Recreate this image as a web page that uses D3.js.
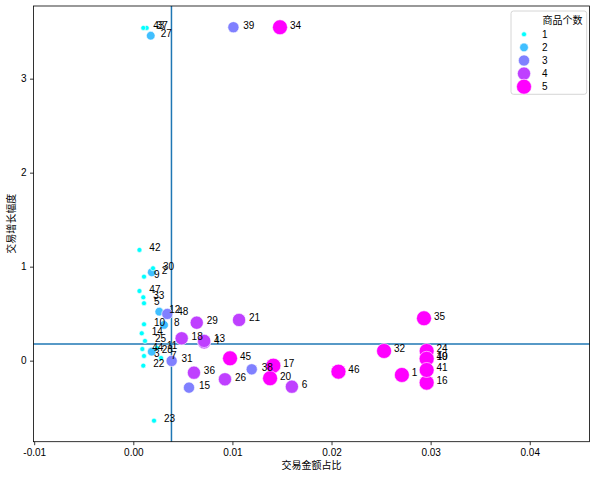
<!DOCTYPE html>
<meta charset="utf-8">
<style>
body { margin: 0; background: #fff; }
text { font-family: "Liberation Sans", "Noto Sans CJK SC", sans-serif; }
.zh { font-family: "Noto Sans CJK SC", sans-serif; }
</style>
<body>
<div id="chart"></div>
<script src="https://d3js.org/d3.v7.min.js"></script>
<script>

// point labels, x = 交易金额占比, y = 交易增长幅度, 商品个数
var ids    = [1, 2, 3, 4, 5, 6, 7, 8, 9, 10, 11, 12, 13, 14, 15, 16, 17, 18, 19, 20, 21, 22, 23, 24,
              25, 26, 27, 28, 29, 30, 31, 32, 33, 34, 35, 36, 37, 38, 39, 40, 41, 42, 43, 44, 45, 46, 47, 48];
var share  = [0.0271, 0.00186, 0.00108, 0.00715, 0.00108, 0.0160, 0.0028, 0.0031, 0.00108, 0.00108, 0.0024, 0.00262,
              0.00715, 0.00085, 0.00562, 0.0296, 0.01413, 0.00488, 0.0296, 0.0138, 0.01067, 0.00101, 0.00209, 0.0296,
              0.00118, 0.00925, 0.00176, 0.00186, 0.0064, 0.00199, 0.00387, 0.0253, 0.00101, 0.0148, 0.02933, 0.00612,
              0.00135, 0.01195, 0.0101, 0.0296, 0.0296, 0.00062, 0.00101, 0.00091, 0.00976, 0.0207, 0.00062, 0.00343];
var growth = [-0.152, 0.940, 0.050, 0.195, 0.611, -0.277, 0.029, 0.380, 0.894, 0.387, 0.135, 0.521,
              0.210, 0.291, -0.287, -0.234, -0.053, 0.238, 0.026, -0.187, 0.433, -0.053, -0.638, 0.103,
              0.210, -0.198, 3.457, 0.096, 0.404, 0.983, -0.003, 0.103, 0.674, 3.547, 0.451, -0.128,
              3.54, -0.092, 3.547, 0.020, -0.099, 1.178, 3.54, 0.124, 0.025, -0.117, 0.741, 0.497];
var count  = [5, 2, 1, 4, 1, 4, 1, 2, 1, 1, 1, 2, 4, 1, 3, 5, 5, 4, 5, 5, 4, 1, 1, 5,
              1, 4, 2, 2, 4, 1, 3, 5, 1, 5, 5, 4, 1, 3, 3, 5, 5, 1, 1, 1, 5, 5, 1, 3];

var xTicks = [-0.01, 0, 0.01, 0.02, 0.03, 0.04];
var yTicks = [0, 1, 2, 3];
var legendCounts = [1, 2, 3, 4, 5];
var meanShare = 0.00385, meanGrowth = 0.177;

var width = 598, height = 477;
var plotL = 33.5, plotR = 589.5, plotT = 6, plotB = 441.7;

var svg = d3.select("#chart").append("svg")
    .attr("width", width)
    .attr("height", height);

var x = d3.scaleLinear().domain([-0.01007, 0.04603]).range([plotL, plotR]);
var y = d3.scaleLinear().domain([-0.862, 3.773]).range([plotB, plotT]);

var color = d3.scaleLinear().domain([1, 5]).range(["#00ffff", "#ff00ff"]);
var area = d3.scaleLinear().domain([1, 5]).range([6.25, 56.25]);
var radius = function(n) { return Math.sqrt(area(n)); };

var data = ids.map(function(id, i) {
  return {id: id, x: share[i], y: growth[i], n: count[i]};
});

// reference lines
svg.append("line")
    .attr("x1", plotL).attr("x2", plotR)
    .attr("y1", y(meanGrowth)).attr("y2", y(meanGrowth))
    .attr("stroke", "#1f77b4").attr("stroke-width", 1.5);
svg.append("line")
    .attr("x1", x(meanShare)).attr("x2", x(meanShare))
    .attr("y1", plotT).attr("y2", plotB)
    .attr("stroke", "#1f77b4").attr("stroke-width", 1.5);

svg.selectAll("circle.pt")
    .data(data)
  .enter().append("circle")
    .attr("class", "pt")
    .attr("cx", function(d) { return x(d.x); })
    .attr("cy", function(d) { return y(d.y); })
    .attr("r", function(d) { return radius(d.n); })
    .attr("fill", function(d) { return color(d.n); })
    .attr("stroke", "#fff")
    .attr("stroke-width", 0.6);

svg.selectAll("text.lbl")
    .data(data)
  .enter().append("text")
    .attr("class", "lbl")
    .attr("x", function(d) { return x(d.x + 0.001); })
    .attr("y", function(d) { return y(d.y) + 1.5; })
    .attr("font-size", 10)
    .attr("fill", "#000")
    .text(function(d) { return d.id; });

// axes
var xAxis = d3.axisBottom(x).tickValues(xTicks).tickSize(3.5).tickPadding(3.5)
    .tickFormat(function(d) { return d.toFixed(2); });
var yAxis = d3.axisLeft(y).tickValues(yTicks).tickSize(3.5).tickPadding(3.5)
    .tickFormat(function(d) { return d; });

var gx = svg.append("g").attr("transform", "translate(0," + plotB + ")").call(xAxis);
var gy = svg.append("g").attr("transform", "translate(" + plotL + ",0)").call(yAxis);
[gx, gy].forEach(function(g) {
  g.select(".domain").remove();
  g.selectAll("line").attr("stroke", "#000").attr("stroke-width", 0.8);
  g.selectAll("text").attr("font-size", 10).attr("fill", "#000")
    .attr("font-family", "Liberation Sans, sans-serif");
});

svg.append("rect")
    .attr("x", plotL).attr("y", plotT)
    .attr("width", plotR - plotL).attr("height", plotB - plotT)
    .attr("fill", "none").attr("stroke", "#000").attr("stroke-width", 0.8);

svg.append("text").attr("class", "zh")
    .attr("x", (plotL + plotR) / 2).attr("y", 469)
    .attr("text-anchor", "middle").attr("font-size", 10)
    .text("交易金额占比");
svg.append("text").attr("class", "zh")
    .attr("transform", "translate(15," + ((plotT + plotB) / 2) + ") rotate(-90)")
    .attr("text-anchor", "middle").attr("font-size", 10)
    .text("交易增长幅度");

// legend
var lg = svg.append("g");
lg.append("rect")
    .attr("x", 511).attr("y", 11).attr("width", 75.7).attr("height", 83.3)
    .attr("rx", 2.5).attr("fill", "#fff").attr("fill-opacity", 0.8)
    .attr("stroke", "#ccc").attr("stroke-width", 0.8);
lg.append("text").attr("class", "zh")
    .attr("x", 562.5).attr("y", 24.2).attr("text-anchor", "middle")
    .attr("font-size", 10).text("商品个数");
var items = lg.selectAll("g.item")
    .data(legendCounts)
  .enter().append("g")
    .attr("transform", function(d, i) { return "translate(524," + (34.3 + i * 13.1) + ")"; });
items.append("circle")
    .attr("r", function(d) { return radius(d); })
    .attr("fill", function(d) { return color(d); })
    .attr("stroke", "#fff").attr("stroke-width", 0.6);
items.append("text")
    .attr("x", 18).attr("y", 3.5)
    .attr("font-size", 10)
    .text(function(d) { return d; });

</script>
</body>
